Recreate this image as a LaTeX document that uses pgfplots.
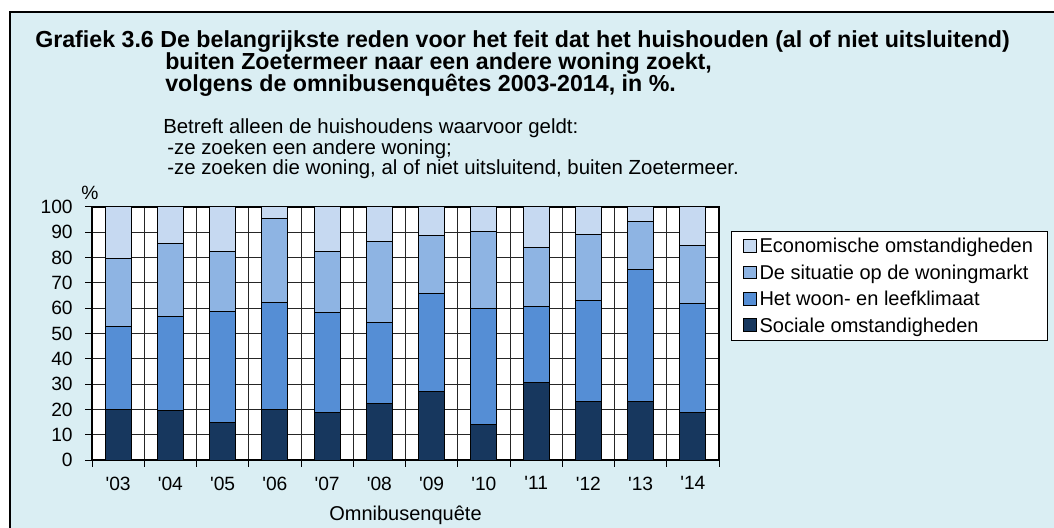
\documentclass[border=0pt]{standalone}
\usepackage{fontspec}
\setmainfont{Liberation Sans}
\usepackage{pgfplots}
\usepackage{pgfplotstable}
\pgfplotsset{compat=1.18}

\definecolor{bg}{HTML}{DAEEF3}
\definecolor{soc}{HTML}{17375E}
\definecolor{woon}{HTML}{558ED5}
\definecolor{markt}{HTML}{8EB4E3}
\definecolor{econ}{HTML}{C6D9F1}

% aandeel per reden, per omnibusenquete (in %)
\pgfplotstableread{
x  soc  woon markt econ
0  20.1 32.8 26.7 20.4
1  19.5 37.3 28.9 14.3
2  14.9 43.8 23.8 17.5
3  20.0 42.2 33.2 4.6
4  18.6 39.8 24.0 17.6
5  22.4 32.1 31.8 13.7
6  27.2 38.7 23.0 11.1
7  14.2 45.7 30.4 9.7
8  30.5 30.3 23.1 16.1
9  23.0 40.2 25.9 10.9
10 23.0 52.4 18.9 5.7
11 18.9 43.1 22.9 15.1
}\data

\pgfplotsset{
  sq/.style={legend image code/.code={
    \draw[##1,draw=black,line width=0.6bp] (0bp,-4.3bp) rectangle (9.5bp,5.2bp);}},
}

\begin{document}
\begin{tikzpicture}
\useasboundingbox (0,0) rectangle (790.5bp,396bp);
\clip (0,0) rectangle (790.5bp,396bp);
\fill[white] (0,0) rectangle (790.5bp,396bp);
\begin{scope}[x=0.75bp,y=0.75bp]
  \draw[fill=bg,line width=1.5bp] (10,-20) rectangle (1080,516);
  \begin{scope}[font=\bfseries\fontsize{17.4bp}{20bp}\selectfont]
    \node[anchor=base west,inner sep=0] at (35,480.3) {Grafiek 3.6 De belangrijkste reden voor het feit dat het huishouden (al of niet uitsluitend)};
    \node[anchor=base west,inner sep=0] at (165,458) {buiten Zoetermeer naar een andere woning zoekt,};
    \node[anchor=base west,inner sep=0] at (165,436.3) {volgens de omnibusenquêtes 2003-2014, in \%.};
  \end{scope}
  \begin{scope}[font=\fontsize{15.3bp}{18bp}\selectfont]
    \node[anchor=base west,inner sep=0] at (163,394) {Betreft alleen de huishoudens waarvoor geldt:};
    \node[anchor=base west,inner sep=0] at (167,373) {-ze zoeken een andere woning;};
    \node[anchor=base west,inner sep=0] at (167,353) {-ze zoeken die woning, al of niet uitsluitend, buiten Zoetermeer.};
  \end{scope}
  \node[font=\fontsize{14.4bp}{17bp}\selectfont,inner sep=0] at (90,335.5) {\%};
\end{scope}

\begin{axis}[
    at={(69bp,51bp)}, anchor=south west,
    scale only axis, width=470.25bp, height=189.75bp,
    ybar stacked, bar width=19.5bp,
    xmin=-0.5, xmax=11.5, ymin=0, ymax=100,
    xtick={-0.5,0.5,...,11.5}, xticklabels={,,,,,,,,,,,,},
    extra x ticks={0,1,...,11},
    extra x tick labels={\textquotesingle03,\textquotesingle04,\textquotesingle05,\textquotesingle06,\textquotesingle07,\textquotesingle08,\textquotesingle09,\textquotesingle10,\textquotesingle11,\textquotesingle12,\textquotesingle13,\textquotesingle14},
    extra x tick style={major tick length=0pt, grid=none},
    ytick={0,10,...,100},
    xmajorgrids, ymajorgrids,
    major grid style={black!85, line width=0.75bp},
    tick align=outside, major tick length=5bp,
    tick style={black, line width=0.75bp},
    xtick pos=bottom, ytick pos=left,
    axis line style={line width=1.5bp},
    axis background/.style={fill=white},
    /pgf/number format/assume math mode=true,
    tick label style={font=\fontsize{14.4bp}{17bp}\selectfont},
    yticklabel style={anchor=east, xshift=-6bp},
    xticklabel style={yshift=-9bp},
    xlabel={Omnibusenquête},
    xlabel style={font=\fontsize{15bp}{18bp}\selectfont, at={(axis description cs:0.5,0)}, anchor=center, yshift=-41.8bp},
    reverse legend,
    legend cell align=left,
    legend style={at={(rel axis cs:1.019,0.905)}, anchor=north west,
      draw=black, line width=0.75bp, fill=white,
      font=\fontsize{15bp}{18bp}\selectfont,
      row sep=3.5bp, inner xsep=9bp, inner ysep=3bp},
]
\addplot[fill=soc, draw=black, line width=0.75bp, sq] table[x=x,y=soc] {\data};
\addplot[fill=woon, draw=black, line width=0.75bp, sq] table[x=x,y=woon] {\data};
\addplot[fill=markt, draw=black, line width=0.75bp, sq] table[x=x,y=markt] {\data};
\addplot[fill=econ, draw=black, line width=0.75bp, sq] table[x=x,y=econ] {\data};
\legend{Sociale omstandigheden,Het woon- en leefklimaat,De situatie op de woningmarkt,Economische omstandigheden}
\end{axis}
\end{tikzpicture}
\end{document}
